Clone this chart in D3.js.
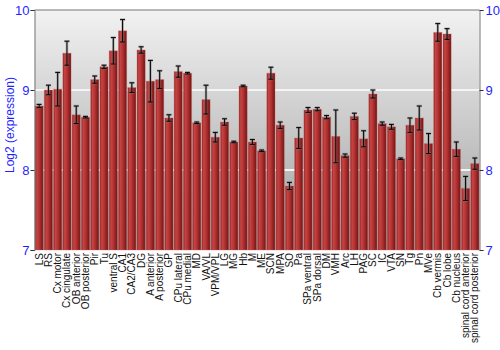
<!DOCTYPE html>
<html>
<head>
<meta charset="utf-8">
<script src="https://cdn.jsdelivr.net/npm/d3@7"></script>
<style>
  body { margin: 0; background: #fff; }
  text { font-family: "Liberation Sans", Arial, sans-serif; }
</style>
</head>
<body>
<svg width="500" height="350"></svg>
<script>
// regioni del cervello
const regions = ["LS", "RS", "Cx motor", "Cx cingulate", "OB anterior", "OB posterior", "Pir", "Tu",
  "ventral S", "CA1", "CA2/CA3", "DG", "A anterior", "A posterior", "GP", "CPu lateral", "CPu medial",
  "MD", "VA/VL", "VPM/VPL", "LG", "MG", "Hb", "M", "ME", "SCN", "MPA", "SO", "Pa", "SPa ventral",
  "SPa dorsal", "DM", "VMH", "Arc", "LH", "PAG", "SC", "IC", "VTA", "SN", "Tg", "Pn", "MVe",
  "Cb vermis", "Cb lobe", "Cb nucleus", "spinal cord anterior", "spinal cord posterior"];

// valori log2
const expression = [8.80, 9.00, 9.01, 9.46, 8.69, 8.66, 9.13, 9.29,
  9.49, 9.74, 9.03, 9.50, 9.11, 9.13, 8.65, 9.23, 9.21,
  8.59, 8.88, 8.41, 8.60, 8.35, 9.05, 8.35, 8.24, 9.21, 8.56, 7.80, 8.40, 8.75,
  8.76, 8.66, 8.42, 8.18, 8.67, 8.39, 8.95, 8.58, 8.54, 8.14, 8.56, 8.65, 8.33,
  9.72, 9.70, 8.26, 7.77, 8.08];

// errore standard
const stdError = [0.02, 0.06, 0.21, 0.15, 0.11, 0.01, 0.045, 0.02,
  0.165, 0.14, 0.06, 0.04, 0.26, 0.11, 0.04, 0.07, 0.01,
  0.01, 0.18, 0.06, 0.04, 0.01, 0.01, 0.03, 0.01, 0.075, 0.04, 0.045, 0.13, 0.03,
  0.02, 0.02, 0.33, 0.02, 0.04, 0.1, 0.05, 0.02, 0.03, 0.01, 0.09, 0.15, 0.125,
  0.11, 0.067, 0.09, 0.15, 0.07];

const yTicks = [7, 8, 9, 10];

const svg = d3.select("svg");
const margin = { top: 10, left: 34.5, right: 20.5, bottom: 100 };
const width = 500 - margin.left - margin.right;
const height = 350 - margin.top - margin.bottom;

const defs = svg.append("defs");
const bg = defs.append("linearGradient").attr("id", "bg").attr("x1", 0).attr("x2", 0).attr("y1", 0).attr("y2", 1);
bg.append("stop").attr("offset", "0%").attr("stop-color", "#f2f2f2");
bg.append("stop").attr("offset", "100%").attr("stop-color", "#9e9e9e");

const barGrad = defs.append("linearGradient").attr("id", "bar").attr("x1", 0).attr("x2", 1).attr("y1", 0).attr("y2", 0);
barGrad.append("stop").attr("offset", "0%").attr("stop-color", "#8a2222");
barGrad.append("stop").attr("offset", "22%").attr("stop-color", "#c84444");
barGrad.append("stop").attr("offset", "55%").attr("stop-color", "#b03030");
barGrad.append("stop").attr("offset", "100%").attr("stop-color", "#701414");

const g = svg.append("g").attr("transform", `translate(${margin.left},${margin.top})`);

const x = d3.scaleBand().domain(regions).range([0, width]).paddingInner(0.12).paddingOuter(0.06);
const y = d3.scaleLinear().domain([7, 10]).range([height, 0]);

g.append("rect").attr("width", width).attr("height", height).attr("fill", "url(#bg)");

// griglia
g.selectAll(".grid")
  .data(yTicks.filter(d => d > 7 && d < 10))
  .join("line")
  .attr("x1", 0).attr("x2", width)
  .attr("y1", d => y(d)).attr("y2", d => y(d))
  .attr("stroke", "#f4f4f4").attr("stroke-width", 2);

// barre
g.selectAll(".bar")
  .data(regions)
  .join("rect")
  .attr("x", d => x(d))
  .attr("width", x.bandwidth())
  .attr("y", (d, i) => y(expression[i]))
  .attr("height", (d, i) => height - y(expression[i]))
  .attr("fill", "url(#bar)")
  .attr("stroke", "#c86060").attr("stroke-opacity", 0.35).attr("stroke-width", 1);

// barre d'errore
const eb = g.append("g");
regions.forEach((r, i) => {
  const cx = x(r) + x.bandwidth() / 2;
  const y1 = y(expression[i] + stdError[i]);
  const y2 = y(expression[i] - stdError[i]);
  const cw = 2.5;
  [["#777", 2.5, 0.5], ["#000", 1, 1]].forEach(([c, w, o]) => {
    eb.append("path")
      .attr("d", `M${cx},${y1}V${y2}M${cx - cw},${y1}H${cx + cw}M${cx - cw},${y2}H${cx + cw}`)
      .attr("stroke", c).attr("stroke-width", w).attr("stroke-opacity", o).attr("fill", "none");
  });
});

// bordi
g.append("line").attr("x1", 0).attr("x2", width).attr("y1", 0).attr("y2", 0).attr("stroke", "#777");

const leftAxis = g.append("g").call(d3.axisLeft(y).tickValues(yTicks).tickFormat(d3.format("d")).tickSize(4));
const rightAxis = g.append("g").attr("transform", `translate(${width},0)`)
  .call(d3.axisRight(y).tickValues(yTicks).tickFormat(d3.format("d")).tickSize(4));
[leftAxis, rightAxis].forEach(a => {
  a.select(".domain").attr("stroke", "#777");
  a.selectAll(".tick line").attr("stroke", "#333");
  a.selectAll(".tick text").attr("fill", "#1f1fff").style("font-size", "13px").style("font-family", "Liberation Sans, Arial, sans-serif");
});
leftAxis.selectAll(".tick text").attr("x", -5);
rightAxis.selectAll(".tick text").attr("x", 6);

// etichette asse x
g.append("g")
  .selectAll("text")
  .data(regions)
  .join("text")
  .attr("transform", d => `translate(${x(d) + x.bandwidth() / 2},${height + 3}) rotate(-90)`)
  .attr("dy", "0.35em")
  .attr("text-anchor", "end")
  .attr("fill", "#111")
  .style("font-size", "10px")
  .text(d => d);

svg.append("text")
  .attr("transform", `translate(10,125) rotate(-90)`)
  .attr("dy", "0.35em")
  .attr("text-anchor", "middle")
  .attr("fill", "#1f1fff")
  .style("font-size", "12px")
  .text("Log2 (expression)");
</script>
</body>
</html>
